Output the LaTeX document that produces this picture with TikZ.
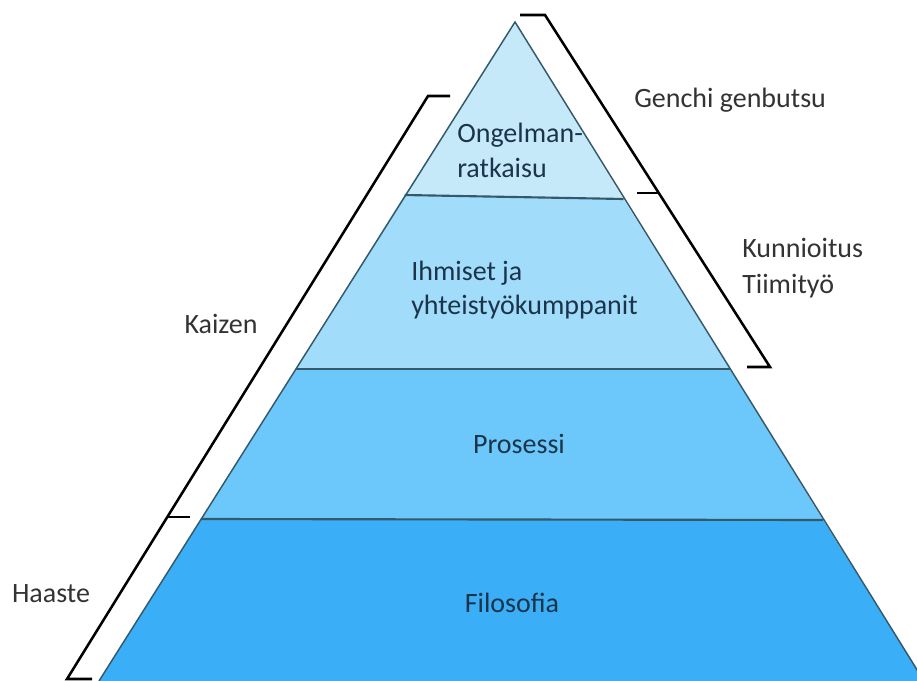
\documentclass[tikz,border=0pt]{standalone}
\usepackage{fontspec}
\setmainfont{Carlito}
\begin{document}
\begin{tikzpicture}[x=0.75pt,y=-0.75pt,
  divider/.style={draw=edgecol,line width=1.6pt},
  brace/.style={draw=black,line width=1.9pt,line join=miter},
  inner/.style={text=innertxt,font=\fontsize{21pt}{25.5pt}\selectfont,inner sep=0pt},
  outer/.style={text=outertxt,font=\fontsize{21pt}{27pt}\selectfont,inner sep=0pt}]
\definecolor{bandA}{HTML}{C6E9FA}
\definecolor{bandB}{HTML}{A2DCFB}
\definecolor{bandC}{HTML}{6CC8FA}
\definecolor{bandD}{HTML}{3AAEF7}
\definecolor{edgecol}{HTML}{33596B}
\definecolor{innertxt}{HTML}{1B344A}
\definecolor{outertxt}{HTML}{333333}
\useasboundingbox (0,0) rectangle (917,681);
\clip (0,0) rectangle (917,681);

% pyramid corners and layer edges
\coordinate (apex) at (515,22);
\coordinate (l1) at (404.6,195); \coordinate (r1) at (623.5,199);
\coordinate (l2) at (296,369);   \coordinate (r2) at (730,369);
\coordinate (l3) at (201.4,519); \coordinate (r3) at (823,520);
\coordinate (l4) at (99,681);    \coordinate (r4) at (924,681);

% layers, top to bottom
\fill[bandA] (apex) -- (r1) -- (l1) -- cycle;
\fill[bandB] (l1) -- (r1) -- (r2) -- (l2) -- cycle;
\fill[bandC] (l2) -- (r2) -- (r3) -- (l3) -- cycle;
\fill[bandD] (l3) -- (r3) -- (r4) -- (l4) -- cycle;
\draw[divider] (l1) -- (r1);
\draw[divider] (l2) -- (r2);
\draw[divider] (l3) -- (r3);
\draw[draw=edgecol,line width=1.1pt,line join=miter] (l4) -- (apex) -- (r4);

% layer labels (base anchor sits on the last line)
\node[inner,anchor=base west,align=left] (ongelma) at (457,177) {Ongelman-\\ratkaisu};
\node[inner,anchor=base west,align=left] (ihmiset) at (411,314) {Ihmiset ja\\yhteistyökumppanit};
\node[inner,anchor=base] (prosessi) at (519,453) {Prosessi};
\node[inner,anchor=base] (filosofia) at (512,612) {Filosofia};

% right-hand brackets
\coordinate (gtop0) at (520,15);
\coordinate (gtop) at (545,15);
\coordinate (gmid) at (658.5,193);
\coordinate (gmid0) at (637,193);
\coordinate (kbot) at (770,367);
\coordinate (kbot0) at (747,367);
\draw[brace] (gtop0) -- (gtop) -- (kbot) -- (kbot0);
\draw[brace] (gmid) -- (gmid0);

% left-hand brackets
\coordinate (ktop0) at (450,96);
\coordinate (ktop) at (428,96);
\coordinate (hmid) at (167,517);
\coordinate (hmid0) at (190,517);
\coordinate (hbot) at (67,679);
\coordinate (hbot0) at (92,679);
\draw[brace] (ktop0) -- (ktop) -- (hbot) -- (hbot0);
\draw[brace] (hmid) -- (hmid0);

% bracket labels
\node[outer,anchor=base west] (genchi) at (634,108) {Genchi genbutsu};
\node[outer,anchor=base west,align=left] (kunnioitus) at (742,293) {Kunnioitus\\Tiimityö};
\node[outer,anchor=base] (kaizen) at (221,333) {Kaizen};
\node[outer,anchor=base] (haaste) at (51,602) {Haaste};
\end{tikzpicture}
\end{document}
